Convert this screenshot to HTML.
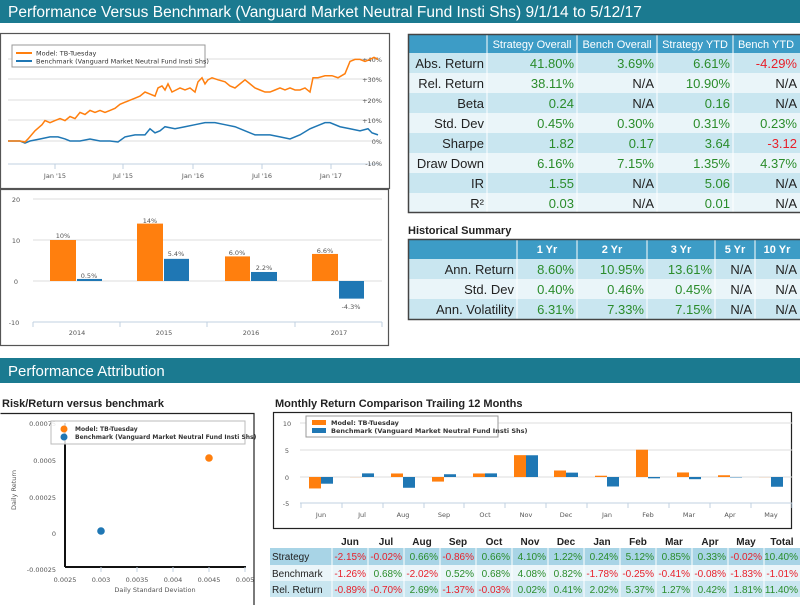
<!DOCTYPE html>
<html><head><meta charset="utf-8"><style>
html,body{margin:0;padding:0;background:#fff;}
svg{display:block;font-family:"Liberation Sans",Arial,sans-serif;}
.s{font-family:"DejaVu Sans",sans-serif;font-size:6.5px;fill:#555;}
.t{font-size:13px;}
.g{fill:#2a8c2a;}.r{fill:#e8202a;}.k{fill:#222;}
.h{fill:#fff;font-size:11px;text-anchor:middle;}
.b{font-size:11px;font-weight:bold;fill:#222;}
.m{font-size:10px;}
</style></head><body>
<svg width="800" height="605" viewBox="0 0 800 605" xmlns="http://www.w3.org/2000/svg">
<rect x="0" y="0" width="800" height="23" fill="#1b7a90"/>
<text x="8" y="17" fill="#fff" font-size="15.5">Performance Versus Benchmark (Vanguard Market Neutral Fund Insti Shs) 9/1/14 to 5/12/17</text>

<rect x="0.5" y="33.5" width="389" height="155" fill="#fff" stroke="#555" stroke-width="1.2"/>
<g stroke="#ddd" stroke-width="1">
<line x1="8" y1="59" x2="380" y2="59"/><line x1="8" y1="79" x2="380" y2="79"/><line x1="8" y1="100" x2="380" y2="100"/><line x1="8" y1="120" x2="380" y2="120"/><line x1="8" y1="141" x2="380" y2="141"/>
</g>
<line x1="8" y1="164" x2="380" y2="164" stroke="#c0d0e0"/>
<g stroke="#c0d0e0"><line x1="55" y1="164" x2="55" y2="169"/><line x1="123" y1="164" x2="123" y2="169"/><line x1="193" y1="164" x2="193" y2="169"/><line x1="262" y1="164" x2="262" y2="169"/><line x1="331" y1="164" x2="331" y2="169"/></g>
<g class="s" text-anchor="end"><text x="382" y="62">+40%</text><text x="382" y="82">+30%</text><text x="382" y="103">+20%</text><text x="382" y="123">+10%</text><text x="382" y="144">0%</text><text x="382" y="166">-10%</text></g>
<g class="s" text-anchor="middle"><text x="55" y="178">Jan '15</text><text x="123" y="178">Jul '15</text><text x="193" y="178">Jan '16</text><text x="262" y="178">Jul '16</text><text x="331" y="178">Jan '17</text></g>
<g transform="translate(0,141) scale(1,-2.04)" fill="none" stroke-width="1.5">
<polyline vector-effect="non-scaling-stroke" stroke="#1f77b4" points="8,0 20,0 25,-1 30,0 40,1 50,2 58,2 65,1 70,0 80,0 90,1 100,0 110,0 118,-0.5 125,2 135,3 145,3 150,6 155,4 160,5 165,7 175,6 185,7 195,8 205,9 215,9 225,8 235,7 245,5 255,3 262,3 270,3 280,2 290,1 300,3 310,6 320,8 325,9 330,9 340,7 350,6 360,5 368,6 372,4 378,3"/>
<polyline vector-effect="non-scaling-stroke" stroke="#ff7f0e" points="8,0 20,0 25,-0.5 28,1 35,5 42,8 45,10 50,9 55,10 60,11 65,10 70,12 75,11 80,14 85,13 90,15 95,14 100,15 105,14 110,15 115,16 120,18 125,19 130,20 135,21 140,22 145,24 150,23 155,22 158,26 162,27 165,25 168,28 172,24 176,25 180,26 185,25 190,26 195,24 198,29 202,31 205,28 208,30 212,31 218,30 225,29 230,27 235,26 240,28 245,30 250,28 255,26 260,25 265,24 270,24 275,25 280,26 285,25 290,26 295,25 300,25 305,26 310,24 313,31 318,31 325,32 332,32 338,31 345,33 350,39 355,40 360,40 365,39 370,40 374,41 378,40"/>
</g>
<rect x="12" y="45" width="193" height="22" fill="#fff" stroke="#999"/>
<line x1="16" y1="53" x2="32" y2="53" stroke="#ff7f0e" stroke-width="2"/>
<line x1="16" y1="61" x2="32" y2="61" stroke="#1f77b4" stroke-width="2"/>
<g class="s" style="fill:#333"><text x="36" y="55.5">Model: TB-Tuesday</text><text x="36" y="63.5">Benchmark (Vanguard Market Neutral Fund Insti Shs)</text></g>

<rect x="0.5" y="189.5" width="388" height="156" fill="#fff" stroke="#555" stroke-width="1.2"/>
<g stroke="#ddd"><line x1="33" y1="199" x2="382" y2="199"/><line x1="33" y1="240" x2="382" y2="240"/><line x1="33" y1="281" x2="382" y2="281"/></g>
<line x1="33" y1="322" x2="382" y2="322" stroke="#c0d0e0"/>
<g stroke="#c0d0e0"><line x1="33" y1="322" x2="33" y2="327"/><line x1="120" y1="322" x2="120" y2="327"/><line x1="207" y1="322" x2="207" y2="327"/><line x1="295" y1="322" x2="295" y2="327"/><line x1="382" y1="322" x2="382" y2="327"/></g>
<g class="s" text-anchor="middle"><text x="16" y="202">20</text><text x="16" y="243">10</text><text x="16" y="284">0</text><text x="14" y="325">-10</text>
<text x="77" y="335">2014</text><text x="164" y="335">2015</text><text x="251" y="335">2016</text><text x="339" y="335">2017</text>
<text x="63" y="238">10%</text><text x="89" y="278">0.5%</text><text x="150" y="223">14%</text><text x="176" y="256">5.4%</text><text x="237" y="255">6.0%</text><text x="264" y="270">2.2%</text><text x="325" y="253">6.6%</text><text x="351" y="309">-4.3%</text></g>
<g transform="translate(0,281) scale(1,-4.1)">
<rect x="50" y="0" width="26" height="10" fill="#ff7f0e"/><rect x="77" y="0" width="25" height="0.5" fill="#1f77b4"/>
<rect x="137" y="0" width="26" height="14" fill="#ff7f0e"/><rect x="164" y="0" width="25" height="5.4" fill="#1f77b4"/>
<rect x="225" y="0" width="25" height="6" fill="#ff7f0e"/><rect x="251" y="0" width="26" height="2.2" fill="#1f77b4"/>
<rect x="312" y="0" width="26" height="6.6" fill="#ff7f0e"/><rect x="339" y="-4.3" width="25" height="4.3" fill="#1f77b4"/>
</g>

<rect x="408" y="34" width="392" height="19" fill="#3d9cc6"/>
<rect x="408" y="53" width="392" height="20" fill="#c9e6f0"/><rect x="408" y="73" width="392" height="20" fill="#eaf5f9"/>
<rect x="408" y="93" width="392" height="20" fill="#c9e6f0"/><rect x="408" y="113" width="392" height="20" fill="#eaf5f9"/>
<rect x="408" y="133" width="392" height="20" fill="#c9e6f0"/><rect x="408" y="153" width="392" height="20" fill="#eaf5f9"/>
<rect x="408" y="173" width="392" height="20" fill="#c9e6f0"/><rect x="408" y="193" width="392" height="19" fill="#eaf5f9"/>
<g stroke="#fff"><line x1="487" y1="34" x2="487" y2="212"/><line x1="577" y1="34" x2="577" y2="212"/><line x1="657" y1="34" x2="657" y2="212"/><line x1="733" y1="34" x2="733" y2="212"/></g>
<rect x="408.5" y="34.5" width="393" height="178" fill="none" stroke="#444" stroke-width="1.5"/>
<g class="h"><text x="532" y="48">Strategy Overall</text><text x="617" y="48">Bench Overall</text><text x="695" y="48">Strategy YTD</text><text x="766" y="48">Bench YTD</text></g>
<g class="t" text-anchor="end">
<g class="k"><text x="484" y="68">Abs. Return</text><text x="484" y="88">Rel. Return</text><text x="484" y="108">Beta</text><text x="484" y="128">Std. Dev</text><text x="484" y="148">Sharpe</text><text x="484" y="168">Draw Down</text><text x="484" y="188">IR</text><text x="484" y="208">R²</text></g>
<g class="g"><text x="574" y="68">41.80%</text><text x="574" y="88">38.11%</text><text x="574" y="108">0.24</text><text x="574" y="128">0.45%</text><text x="574" y="148">1.82</text><text x="574" y="168">6.16%</text><text x="574" y="188">1.55</text><text x="574" y="208">0.03</text>
<text x="654" y="68">3.69%</text><text x="654" y="128">0.30%</text><text x="654" y="148">0.17</text><text x="654" y="168">7.15%</text>
<text x="730" y="68">6.61%</text><text x="730" y="88">10.90%</text><text x="730" y="108">0.16</text><text x="730" y="128">0.31%</text><text x="730" y="148">3.64</text><text x="730" y="168">1.35%</text><text x="730" y="188">5.06</text><text x="730" y="208">0.01</text>
<text x="797" y="128">0.23%</text><text x="797" y="168">4.37%</text></g>
<g class="k"><text x="654" y="88">N/A</text><text x="654" y="108">N/A</text><text x="654" y="188">N/A</text><text x="654" y="208">N/A</text><text x="797" y="88">N/A</text><text x="797" y="108">N/A</text><text x="797" y="188">N/A</text><text x="797" y="208">N/A</text></g>
<g class="r"><text x="797" y="68">-4.29%</text><text x="797" y="148">-3.12</text></g>
</g>

<text x="408" y="234" class="b">Historical Summary</text>
<rect x="408" y="239" width="392" height="20" fill="#3d9cc6"/>
<rect x="408" y="259" width="392" height="20" fill="#c9e6f0"/><rect x="408" y="279" width="392" height="20" fill="#eaf5f9"/><rect x="408" y="299" width="392" height="20" fill="#c9e6f0"/>
<g stroke="#fff"><line x1="517" y1="239" x2="517" y2="319"/><line x1="577" y1="239" x2="577" y2="319"/><line x1="647" y1="239" x2="647" y2="319"/><line x1="715" y1="239" x2="715" y2="319"/><line x1="755" y1="239" x2="755" y2="319"/></g>
<rect x="408.5" y="239.5" width="393" height="80" fill="none" stroke="#444" stroke-width="1.5"/>
<g class="h" style="font-weight:bold;font-size:11px"><text x="547" y="253">1 Yr</text><text x="612" y="253">2 Yr</text><text x="681" y="253">3 Yr</text><text x="735" y="253">5 Yr</text><text x="777" y="253">10 Yr</text></g>
<g class="t" text-anchor="end">
<g class="k"><text x="514" y="274">Ann. Return</text><text x="514" y="294">Std. Dev</text><text x="514" y="314">Ann. Volatility</text>
<text x="752" y="274">N/A</text><text x="752" y="294">N/A</text><text x="752" y="314">N/A</text><text x="797" y="274">N/A</text><text x="797" y="294">N/A</text><text x="797" y="314">N/A</text></g>
<g class="g"><text x="574" y="274">8.60%</text><text x="574" y="294">0.40%</text><text x="574" y="314">6.31%</text>
<text x="644" y="274">10.95%</text><text x="644" y="294">0.46%</text><text x="644" y="314">7.33%</text>
<text x="712" y="274">13.61%</text><text x="712" y="294">0.45%</text><text x="712" y="314">7.15%</text></g>
</g>

<rect x="0" y="358" width="800" height="25" fill="#1b7a90"/>
<text x="8" y="376" fill="#fff" font-size="15">Performance Attribution</text>

<text x="2" y="407" class="b">Risk/Return versus benchmark</text>
<path d="M0.5 413.5 H254 V605" fill="none" stroke="#222" stroke-width="1.2"/>
<line x1="65" y1="423" x2="65" y2="567" stroke="#111" stroke-width="2"/>
<line x1="65" y1="567" x2="246" y2="567" stroke="#111" stroke-width="2"/>
<g stroke="#c0d0e0"><line x1="101" y1="567" x2="101" y2="572"/><line x1="137" y1="567" x2="137" y2="572"/><line x1="173" y1="567" x2="173" y2="572"/><line x1="209" y1="567" x2="209" y2="572"/><line x1="245" y1="567" x2="245" y2="572"/></g>
<g class="s" text-anchor="end"><text x="56" y="426">0.00075</text><text x="56" y="463">0.0005</text><text x="56" y="500">0.00025</text><text x="56" y="536">0</text><text x="56" y="572">-0.00025</text></g>
<g class="s" text-anchor="middle"><text x="65" y="582">0.0025</text><text x="101" y="582">0.003</text><text x="137" y="582">0.0035</text><text x="173" y="582">0.004</text><text x="209" y="582">0.0045</text><text x="245" y="582">0.005</text><text x="155" y="592">Daily Standard Deviation</text>
<text transform="translate(16,490) rotate(-90)">Daily Return</text></g>
<rect x="51" y="421" width="194" height="23" fill="#fff" fill-opacity="0.85" stroke="#bbb"/>
<circle cx="64" cy="429" r="3.5" fill="#ff7f0e"/><circle cx="64" cy="437" r="3.5" fill="#1f77b4"/>
<g class="s" style="fill:#333;font-weight:bold;font-size:6px"><text x="75" y="431">Model: TB-Tuesday</text><text x="75" y="439">Benchmark (Vanguard Market Neutral Fund Insti Shs)</text></g>
<circle cx="209" cy="458" r="3.8" fill="#ff7f0e"/><circle cx="101" cy="531" r="3.8" fill="#1f77b4"/>

<text x="275" y="407" class="b">Monthly Return Comparison Trailing 12 Months</text>
<rect x="273.5" y="412.5" width="518" height="116" fill="#fff" stroke="#222" stroke-width="1.2"/>
<g stroke="#ddd"><line x1="300" y1="423" x2="792" y2="423"/><line x1="300" y1="450" x2="792" y2="450"/><line x1="300" y1="477" x2="792" y2="477"/></g>
<line x1="300" y1="503" x2="792" y2="503" stroke="#c0d0e0"/>
<g class="s" text-anchor="middle"><text x="287" y="426">10</text><text x="287" y="453">5</text><text x="287" y="480">0</text><text x="286" y="506">-5</text>
<text x="321" y="517">Jun</text><text x="362" y="517">Jul</text><text x="403" y="517">Aug</text><text x="444" y="517">Sep</text><text x="485" y="517">Oct</text><text x="526" y="517">Nov</text><text x="566" y="517">Dec</text><text x="607" y="517">Jan</text><text x="648" y="517">Feb</text><text x="689" y="517">Mar</text><text x="730" y="517">Apr</text><text x="771" y="517">May</text></g>
<g stroke="#c0d0e0"><line x1="301" y1="503" x2="301" y2="508"/><line x1="342" y1="503" x2="342" y2="508"/><line x1="383" y1="503" x2="383" y2="508"/><line x1="424" y1="503" x2="424" y2="508"/><line x1="464" y1="503" x2="464" y2="508"/><line x1="505" y1="503" x2="505" y2="508"/><line x1="546" y1="503" x2="546" y2="508"/><line x1="587" y1="503" x2="587" y2="508"/><line x1="628" y1="503" x2="628" y2="508"/><line x1="669" y1="503" x2="669" y2="508"/><line x1="710" y1="503" x2="710" y2="508"/><line x1="751" y1="503" x2="751" y2="508"/><line x1="792" y1="503" x2="792" y2="508"/></g>
<g transform="translate(0,477) scale(1,-5.33)">
<g fill="#ff7f0e">
<rect x="309" y="-2.15" width="12" height="2.15"/><rect x="350" y="-0.02" width="12" height="0.02"/><rect x="391" y="0" width="12" height="0.66"/><rect x="432" y="-0.86" width="12" height="0.86"/><rect x="473" y="0" width="12" height="0.66"/><rect x="514" y="0" width="12" height="4.10"/><rect x="554" y="0" width="12" height="1.22"/><rect x="595" y="0" width="12" height="0.24"/><rect x="636" y="0" width="12" height="5.12"/><rect x="677" y="0" width="12" height="0.85"/><rect x="718" y="0" width="12" height="0.33"/><rect x="759" y="-0.02" width="12" height="0.02"/></g>
<g fill="#1f77b4">
<rect x="321" y="-1.26" width="12" height="1.26"/><rect x="362" y="0" width="12" height="0.68"/><rect x="403" y="-2.02" width="12" height="2.02"/><rect x="444" y="0" width="12" height="0.52"/><rect x="485" y="0" width="12" height="0.68"/><rect x="526" y="0" width="12" height="4.08"/><rect x="566" y="0" width="12" height="0.82"/><rect x="607" y="-1.78" width="12" height="1.78"/><rect x="648" y="-0.25" width="12" height="0.25"/><rect x="689" y="-0.41" width="12" height="0.41"/><rect x="730" y="-0.08" width="12" height="0.08"/><rect x="771" y="-1.83" width="12" height="1.83"/></g>
</g>
<rect x="306" y="416" width="192" height="21" fill="#fff" stroke="#999"/>
<rect x="312" y="420" width="14" height="5" fill="#ff7f0e"/><rect x="312" y="428" width="14" height="5" fill="#1f77b4"/>
<g class="s" style="fill:#333;font-weight:bold"><text x="331" y="425">Model: TB-Tuesday</text><text x="331" y="433">Benchmark (Vanguard Market Neutral Fund Insti Shs)</text></g>

<rect x="270" y="548" width="530" height="17" fill="#a8d4e6"/>
<rect x="270" y="565" width="530" height="16" fill="#eaf5f9"/>
<rect x="270" y="581" width="530" height="16" fill="#c9e6f0"/>
<g stroke="#fff"><line x1="332" y1="548" x2="332" y2="597"/><line x1="368" y1="548" x2="368" y2="597"/><line x1="404" y1="548" x2="404" y2="597"/><line x1="440" y1="548" x2="440" y2="597"/><line x1="476" y1="548" x2="476" y2="597"/><line x1="512" y1="548" x2="512" y2="597"/><line x1="548" y1="548" x2="548" y2="597"/><line x1="584" y1="548" x2="584" y2="597"/><line x1="620" y1="548" x2="620" y2="597"/><line x1="656" y1="548" x2="656" y2="597"/><line x1="692" y1="548" x2="692" y2="597"/><line x1="728" y1="548" x2="728" y2="597"/><line x1="764" y1="548" x2="764" y2="597"/></g>
<g class="m" style="font-weight:bold;fill:#222" text-anchor="middle"><text x="350" y="545">Jun</text><text x="386" y="545">Jul</text><text x="422" y="545">Aug</text><text x="458" y="545">Sep</text><text x="494" y="545">Oct</text><text x="530" y="545">Nov</text><text x="566" y="545">Dec</text><text x="602" y="545">Jan</text><text x="638" y="545">Feb</text><text x="674" y="545">Mar</text><text x="710" y="545">Apr</text><text x="746" y="545">May</text><text x="782" y="545">Total</text></g>
<g class="m k"><text x="272" y="560">Strategy</text><text x="272" y="577">Benchmark</text><text x="272" y="593">Rel. Return</text></g>
<g class="m" text-anchor="end">
<text class="r" x="366" y="560">-2.15%</text><text class="r" x="402" y="560">-0.02%</text><text class="g" x="438" y="560">0.66%</text><text class="r" x="474" y="560">-0.86%</text><text class="g" x="510" y="560">0.66%</text><text class="g" x="546" y="560">4.10%</text><text class="g" x="582" y="560">1.22%</text><text class="g" x="618" y="560">0.24%</text><text class="g" x="654" y="560">5.12%</text><text class="g" x="690" y="560">0.85%</text><text class="g" x="726" y="560">0.33%</text><text class="r" x="762" y="560">-0.02%</text><text class="g" x="798" y="560">10.40%</text>
<text class="r" x="366" y="577">-1.26%</text><text class="g" x="402" y="577">0.68%</text><text class="r" x="438" y="577">-2.02%</text><text class="g" x="474" y="577">0.52%</text><text class="g" x="510" y="577">0.68%</text><text class="g" x="546" y="577">4.08%</text><text class="g" x="582" y="577">0.82%</text><text class="r" x="618" y="577">-1.78%</text><text class="r" x="654" y="577">-0.25%</text><text class="r" x="690" y="577">-0.41%</text><text class="r" x="726" y="577">-0.08%</text><text class="r" x="762" y="577">-1.83%</text><text class="r" x="798" y="577">-1.01%</text>
<text class="r" x="366" y="593">-0.89%</text><text class="r" x="402" y="593">-0.70%</text><text class="g" x="438" y="593">2.69%</text><text class="r" x="474" y="593">-1.37%</text><text class="r" x="510" y="593">-0.03%</text><text class="g" x="546" y="593">0.02%</text><text class="g" x="582" y="593">0.41%</text><text class="g" x="618" y="593">2.02%</text><text class="g" x="654" y="593">5.37%</text><text class="g" x="690" y="593">1.27%</text><text class="g" x="726" y="593">0.42%</text><text class="g" x="762" y="593">1.81%</text><text class="g" x="798" y="593">11.40%</text>
</g>
</svg>
</body></html>
